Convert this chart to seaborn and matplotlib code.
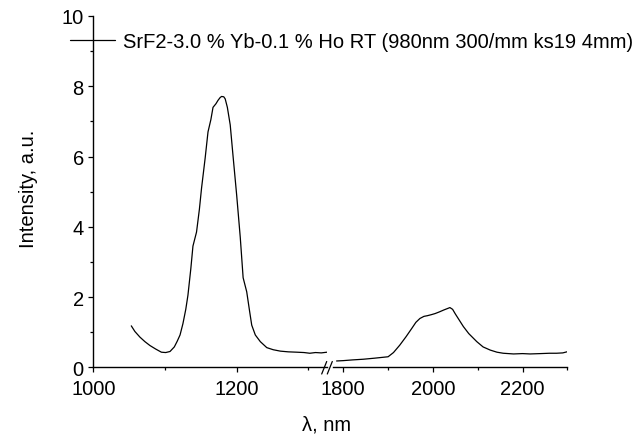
import numpy as np
import pandas as pd
import matplotlib
matplotlib.use("Agg")
import matplotlib.pyplot as plt
from matplotlib.lines import Line2D
from matplotlib.ticker import MultipleLocator
import seaborn as sns

# ---- data ----
wl_left = [1053, 1058, 1065, 1072, 1079, 1087, 1095, 1101, 1107, 1113, 1117, 1121, 1125,
           1129, 1132, 1136, 1139, 1144, 1148, 1151, 1156, 1160, 1164, 1167, 1171, 1174,
           1177, 1179, 1182, 1184, 1187, 1191, 1195, 1200, 1205, 1209, 1214, 1218, 1221,
           1226, 1233, 1242, 1251, 1261, 1272, 1284, 1294, 1302, 1310, 1318, 1326]
int_left = [1.18, 1.02, 0.86, 0.73, 0.62, 0.52, 0.43, 0.42, 0.45, 0.58, 0.74, 0.92, 1.24,
            1.65, 2.05, 2.8, 3.45, 3.85, 4.5, 5.1, 5.95, 6.7, 7.05, 7.4, 7.5, 7.6,
            7.68, 7.71, 7.7, 7.64, 7.4, 6.9, 6.0, 4.9, 3.7, 2.55, 2.15, 1.6, 1.2,
            0.92, 0.73, 0.56, 0.5, 0.46, 0.44, 0.43, 0.42, 0.40, 0.42, 0.41, 0.43]

wl_right = [1785, 1800, 1820, 1845, 1870, 1900, 1912, 1926, 1940, 1953, 1962, 1971, 1980,
            1988, 1997, 2005, 2015, 2024, 2032, 2038, 2044, 2050, 2060, 2068, 2080,
            2098, 2112, 2128, 2143, 2157, 2180, 2200, 2217, 2240, 2260, 2276, 2290, 2302]
int_right = [0.18, 0.19, 0.21, 0.23, 0.26, 0.30, 0.42, 0.63, 0.87, 1.11, 1.28, 1.39, 1.45,
             1.47, 1.50, 1.53, 1.58, 1.63, 1.67, 1.70, 1.65, 1.52, 1.32, 1.16, 0.96,
             0.73, 0.58, 0.49, 0.43, 0.40, 0.38, 0.39, 0.38, 0.39, 0.40, 0.40, 0.41, 0.45]

legend_label = "SrF2-3.0 % Yb-0.1 % Ho RT (980nm 300/mm ks19 4mm)"

sns.set_style("ticks")
plt.rcParams['font.family'] = ['Liberation Sans', 'DejaVu Sans']
FS = 14.5
plt.rcParams['font.size'] = FS
for k in ("text.color", "axes.labelcolor", "xtick.color", "ytick.color", "axes.edgecolor"):
    plt.rcParams[k] = "black"

W, H = 644, 439
fig = plt.figure(figsize=(W / 100, H / 100), dpi=100)

def fx(px):
    return px / W

def fy(py):
    return 1 - py / H

top, bot = 17.0, 368.3
axL = fig.add_axes([fx(93.3), fy(bot), fx(327.0) - fx(93.3), (bot - top) / H])
axR = fig.add_axes([fx(333.0), fy(bot), fx(567.3) - fx(333.0), (bot - top) / H])
axR.patch.set_alpha(0)

dfL = pd.DataFrame({"wl": wl_left, "I": int_left})
dfR = pd.DataFrame({"wl": wl_right, "I": int_right})
sns.lineplot(data=dfL, x="wl", y="I", ax=axL, color="black", lw=0.9, label=legend_label)
sns.lineplot(data=dfR, x="wl", y="I", ax=axR, color="black", lw=0.9)

for ax in (axL, axR):
    ax.set_ylim(0, 10)
    ax.spines["top"].set_visible(False)
    ax.spines["right"].set_visible(False)
    for s in ax.spines.values():
        s.set_linewidth(1.0)
    ax.tick_params(which="major", length=3.8, width=0.9, direction="out", labelsize=FS, pad=3)
    ax.tick_params(which="minor", length=2.2, width=0.9, direction="out")
    ax.tick_params(axis="x", which="major", pad=4.8)
    ax.set_xlabel("")
    ax.set_ylabel("")

axL.set_xlim(1000, 1326)
axL.xaxis.set_major_locator(MultipleLocator(200))
axL.xaxis.set_minor_locator(MultipleLocator(100))
axL.yaxis.set_major_locator(MultipleLocator(2))
axL.yaxis.set_minor_locator(MultipleLocator(1))

axR.set_xlim(1777, 2300)
axR.xaxis.set_major_locator(MultipleLocator(200))
axR.xaxis.set_minor_locator(MultipleLocator(100))
axR.spines["left"].set_visible(False)
axR.tick_params(axis="y", which="both", left=False, labelleft=False)

# axis break marks
for x0 in (321.7, 327.3):
    fig.add_artist(Line2D([fx(x0), fx(x0 + 5.0)], [fy(375), fy(362.5)],
                          color="black", lw=0.9, transform=fig.transFigure))

fig.text(fx(29), fy(189), "Intensity, a.u.", rotation=90, ha="center", va="center", fontsize=FS)
fig.text(fx(327), fy(425), "λ, nm", ha="center", va="center", fontsize=FS)

leg = axL.get_legend()
leg.remove()
handles, labels = axL.get_legend_handles_labels()
fig.legend(handles, labels, loc="center left", bbox_to_anchor=(fx(70), fy(43)),
           frameon=False, borderpad=0, borderaxespad=0, handlelength=2.25,
           handletextpad=0.4, fontsize=FS)

fig.savefig("out.png", dpi=100)
